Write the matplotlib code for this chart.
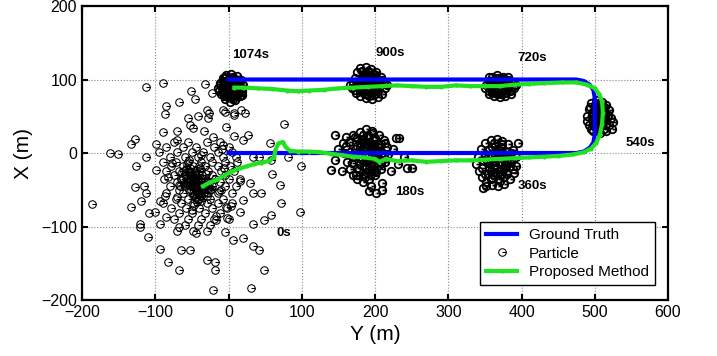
import matplotlib
matplotlib.use("Agg")
import matplotlib.pyplot as plt
from matplotlib.path import Path

plt.rcParams["font.family"] = ["Liberation Sans", "DejaVu Sans"]

# ground truth loop (Y, X) in metres
gt_y = [0, 475, 485, 493, 498, 500, 500, 498, 493, 485, 475, 0]
gt_x = [0, 0, 2, 7, 14, 25, 75, 86, 93, 98, 100, 100]

# proposed method trajectory
pm_y = [-35, -25, -15, -5, 5, 15, 25, 35, 45, 55, 62, 64, 68, 74, 78, 84, 95, 110,
        125, 140, 155, 170, 185, 200, 206, 215, 230, 250, 270, 290, 310, 330, 350,
        370, 390, 410, 430, 450, 470, 485, 495, 502, 507, 510, 511, 510, 506, 500,
        490, 475, 455, 430, 410, 390, 370, 350, 330, 310, 290, 270, 250, 230, 210,
        190, 170, 150, 130, 110, 95, 80, 60, 40, 20, 8]
pm_x = [-45, -40, -36, -30, -25, -21, -18, -15, -13, -11, -6, 4, 13, 15, 8, 3, 2, 2,
        1, -1, -3, -5, -6, -8, -12, -8, -11, -10, -12, -11, -10, -10, -9,
        -8, -7, -6, -5, -4, -2, 1, 6, 14, 25, 40, 55, 70, 80, 88,
        93, 96, 96, 95, 94, 93, 91, 91, 91, 92, 90, 90, 91, 92, 91,
        90, 89, 88, 86, 85, 84, 85, 87, 88, 89, 89]

# particles at each time, (Y, X)
p0_y = [-112, -89, -32, -51, -46, -67, -86, -87, -30, -42, -56, -53, -28, -3, 8, 20, 26,
        17, -8, 7, 76, -128, -133, -99, -90, -71, -71, -49, -33, -21, -8, 56, 33, 42,
        58, 81, 99, -162, -151, -112, -126, -99, -115, -128, -186, -133, -119, -112,
        -121, -110, -94, -83, -67, -65, -53, -30, -19, -19, -21, 31, 49, 33, 42, 6, 20,
        -5, 33, 49, 58, 72, 97, 70, 60, 33, 29, 45, -101, -85, -108, -121, -94, -67,
        -44, -17, -3, 15, 20, -22, -26, -5, 8, 22,
        -75, -55, -30, -12, -85, -62, -45, -20, 0, -95, -70, -50, -35, -15, 5,
        -80, -60, -42, -25, -8, 10, -90, -72, -55, -38, -22, -5, 12,
        -78, -62, -48, -32, -15, 2, -85, -68, -52, -40, -28, -10, 8,
        -75, -58, -46, -36, -22, -5, -88, -65, -52, -42, -32, -18, 0, 15,
        -70, -55, -46, -38, -28, -12, -80, -60, -50, -42, -34, -22, -5, 10,
        -68, -54, -44, -36, -25, -10, -85, -62, -48, -38, -28, -15, 5,
        -72, -55, -40, -25, -8, -90, -65, -48, -30, -15, 5,
        -78, -58, -40, -22, -2, -68, -50, -32, -12, -75, -55, -38, -20, 0,
        -60, -42, -25, -70, -48, -30,
        -44, -48, -40, -42, -50, -38, -46, -52, -36, -43,
        -47, -41, -53, -35, -58, -31, -49, -39, -45, -56, -33, -61, -27, -51, -37,
        -63, -24, -57, -44, -29, -66, -19, -43, -54, -34, -47, -40, -59, -26, -50,
        -38, -64, -13, -71, -6, -82, 3, -77, -17, -67, -9, -58, -2, -87, 16, -93,
        -45, -41, -49, -37, -53, -43, -39, -47, -35, -51, -44, -48, -40, -42, -46,
        -55, -32, -60, -30, -50, -36, -56, -34, -62, -28, -44, -52, -38, -46, -42]
p0_x = [90, 95, 94, 85, 73, 70, 64, 53, 58, 50, 47, 38, 47, 35, 23, 18, 24,
        58, 58, 54, 40, 19, 12, 12, 28, 30, 18, 34, 30, 22, 11, 13, -5, -5,
        -10, -5, -18, 0, -2, -5, -18, -23, -45, -46, -69, -73, -65, -55,
        -96, -114, -130, -148, -159, -132, -132, -146, -148, -159, -186, -183, -159,
        -127, -132, -118, -116, -107, -96, -91, -84, -68, -80, -44, -28, -55, -41, -55,
        -80, -87, -82, -100, -96, -100, -109, -91, -73, -80, -64, 82, 54, 56, 52, 54,
        15, 15, 15, 15, 8, 8, 8, 8, 8, 2, 2, 2, 2, 2, 2,
        -5, -5, -5, -5, -5, -5, -12, -12, -12, -12, -12, -12, -12,
        -18, -18, -18, -18, -18, -18, -24, -24, -24, -24, -24, -24, -24,
        -30, -30, -30, -30, -30, -30, -35, -35, -35, -35, -35, -35, -35, -35,
        -40, -40, -40, -40, -40, -40, -45, -45, -45, -45, -45, -45, -45, -45,
        -50, -50, -50, -50, -50, -50, -55, -55, -55, -55, -55, -55, -55,
        -62, -62, -62, -62, -62, -68, -68, -68, -68, -68, -68,
        -75, -75, -75, -75, -75, -82, -82, -82, -82, -90, -90, -90, -90, -90,
        -98, -98, -98, -106, -106, -106,
        -38, -42, -44, -36, -38, -40, -46, -44, -34, -48,
        -33, -51, -27, -47, -39, -29, -57, -21, -61, -43, -53, -25, -41, -31, -65,
        -37, -49, -15, -23, -59, -45, -35, -67, -9, -55, -71, -17, -30, -47, -77,
        -3, -26, -52, -60, -20, -33, -72, -13, -86, -44, 6, -22, -88, -58, -38, -65,
        -30, -34, -36, -38, -40, -42, -44, -46, -48, -50, -52, -32, -54, -28, -56,
        -36, -44, -42, -38, -30, -50, -26, -48, -34, -46, -60, -20, -58, -24, -62]

p180_y = [160, 158, 162, 166, 170, 176, 184, 192, 200, 208, 214, 218, 216, 212, 205,
          196, 188, 180, 172, 165, 175, 182, 190, 198, 206, 200, 192, 184, 178, 186,
          196, 204, 170, 210, 188, 194, 180, 200, 150, 145, 155, 225, 232, 228, 240,
          250, 195, 202, 210, 192, 170, 160, 222, 145, 140, 156, 197, 209, 243, 233,
          176, 184, 192, 200, 208, 172, 180, 188, 196, 204, 212, 168, 178, 188, 198,
          206, 174, 186, 194, 202, 190, 182, 198, 166, 214,
          180, 186, 192, 198, 204, 178, 184, 190, 196, 202, 182, 188, 194, 200, 186,
          192, 198, 176, 208, 190]
p180_x = [10, 0, -12, -22, -30, -36, -40, -36, -30, -22, -12, -2, 8, 18, 25,
          30, 32, 28, 22, 15, 10, 0, -10, -18, -8, 5, 15, 18, -5, -20,
          -2, 12, -5, 0, 5, -28, -15, 20, 5, -10, -25, 5, -15, 20, -5,
          -20, -45, -55, -50, -52, 25, 22, -25, 24, -23, 13, 27, -41, -20, 20,
          20, 24, 22, 18, 12, 6, 8, 12, 6, 2, -6, -14, -22, -26, -24,
          -16, -30, -32, -12, -26, -4, -8, 10, 2, 14,
          14, 16, 10, 12, 8, 2, 4, -2, 0, -4, -10, -12, -14, -10, -28,
          -22, -24, -20, -14, 24]

p360_y = [340, 338, 342, 346, 352, 360, 368, 376, 384, 390, 393, 392, 388, 382, 374,
          366, 358, 350, 344, 350, 356, 362, 370, 378, 384, 376, 368, 360, 354, 366,
          372, 380, 358, 362, 370, 386, 346, 364, 352, 395, 348,
          356, 364, 372, 380, 352, 360, 368, 376, 384, 356, 364, 372, 380, 360, 368,
          376, 348, 388, 362, 374,
          358, 366, 374, 382, 354, 362, 370, 378, 358, 366, 374, 362, 370, 350, 386]
p360_x = [-5, -15, -25, -33, -40, -44, -45, -42, -36, -27, -17, -6, 4, 12, 17,
          19, 18, 14, 6, -2, -12, -22, -30, -20, -10, -2, 6, 8, -28, -8,
          -14, -28, -35, 0, -38, 0, -20, -16, -45, 14, -48,
          4, 10, 8, 2, -8, -4, -2, -8, -18, -20, -26, -22, -14, -34, -36,
          -32, -10, -22, 14, 12,
          -2, 2, 0, -4, -14, -10, -12, -16, -24, -20, -28, -30, -24, -28, -12]

p540_y = [490, 492, 495, 502, 510, 516, 520, 522, 520, 515, 507, 498, 492, 489, 497,
          503, 510, 514, 508, 500, 506, 513, 496, 504, 500, 512, 518, 494, 505, 509,
          499, 508, 516, 495, 525, 523,
          498, 502, 506, 510, 514, 500, 504, 508, 512, 496, 502, 508, 514, 500, 506,
          511, 503, 497,
          500, 504, 508, 512, 498, 502, 506, 510, 514, 500, 506, 512, 504, 508]
p540_x = [50, 60, 68, 72, 70, 65, 58, 48, 38, 30, 27, 30, 38, 44, 45,
          52, 55, 45, 38, 60, 62, 57, 55, 42, 36, 32, 52, 62, 48, 48,
          48, 66, 40, 32, 42, 32,
          40, 36, 34, 38, 50, 44, 46, 42, 62, 50, 56, 58, 54, 66, 68,
          44, 58, 38,
          40, 40, 44, 46, 52, 50, 52, 50, 56, 58, 56, 62, 64, 60]

p720_y = [352, 355, 356, 360, 367, 375, 382, 388, 390, 386, 378, 370, 362, 356, 362,
          368, 375, 370, 380, 364, 374, 384, 358, 366, 376, 350, 370, 378, 385, 360,
          368, 372, 362, 382, 356, 392,
          360, 366, 372, 378, 384, 358, 364, 370, 376, 382, 362, 368, 374, 380, 366,
          372,
          362, 368, 374, 380, 358, 364, 370, 376, 382, 362, 368, 374, 380, 366, 372]
p720_x = [92, 85, 98, 103, 106, 104, 100, 95, 88, 80, 77, 76, 78, 80, 88,
          94, 90, 84, 86, 98, 98, 92, 94, 82, 82, 88, 100, 95, 86, 86,
          90, 92, 92, 104, 104, 92,
          82, 80, 80, 82, 84, 90, 88, 86, 86, 90, 96, 96, 94, 94, 102,
          102,
          84, 82, 84, 88, 90, 92, 90, 92, 94, 98, 98, 100, 96, 86, 88]

p900_y = [170, 168, 172, 175, 180, 188, 195, 202, 208, 212, 214, 210, 204, 196, 188,
          180, 174, 178, 184, 190, 198, 205, 200, 192, 184, 186, 194, 200, 182, 192,
          206, 176, 196, 188, 210, 173, 182, 200, 216, 166, 192, 198,
          180, 186, 192, 198, 204, 178, 184, 190, 196, 202, 208, 182, 188, 194, 200,
          206, 186, 194, 190,
          182, 188, 194, 200, 206, 180, 186, 192, 198, 204, 184, 190, 196, 202, 188]
p900_x = [95, 88, 102, 110, 115, 117, 114, 110, 104, 96, 88, 80, 76, 74, 75,
          78, 82, 90, 98, 105, 102, 95, 86, 83, 86, 92, 95, 98, 104, 110,
          88, 97, 90, 100, 100, 86, 112, 80, 92, 92, 88, 107,
          84, 80, 78, 80, 84, 92, 90, 88, 86, 90, 94, 100, 96, 100, 106,
          98, 108, 106, 112,
          88, 84, 82, 84, 90, 96, 94, 92, 92, 96, 102, 100, 104, 104, 108]

p1074_y = [-12, -8, -3, 4, 11, 17, 20, -14, -10, -5, 2, 9, 15, 19, -6, 0, 7, 13, -9,
           -2, 5, 12, -7, 0, 8, 14, -3, 4, 10, -11, 2, 16, -4, 6, 1, -1, 9, 3, -8,
           11, -13, 18, 6, -5,
           -6, 0, 6, 12, -8, -2, 4, 10, 16, -4, 2, 8, 14, -2, 4, 10, 3, -7,
           -4, 2, 8, 14, -6, 0, 6, 12, -2, 4, 10, 0, 6]
p1074_x = [95, 102, 106, 108, 105, 100, 93, 88, 80, 74, 70, 72, 77, 84, 96, 100, 99,
           94, 89, 90, 91, 87, 83, 82, 81, 85, 77, 76, 79, 92, 95, 90, 86, 86, 88,
           93, 92, 80, 98, 98, 84, 79, 103, 103,
           78, 76, 74, 80, 84, 84, 82, 84, 88, 92, 90, 90, 94, 98, 96, 96, 102, 90,
           80, 78, 78, 82, 88, 86, 88, 90, 94, 92, 94, 100, 100]

times = ["0s", "180s", "360s", "540s", "720s", "900s", "1074s"]
label_y = [65, 227, 395, 542, 395, 200, 5]
label_x = [-109, -53, -45, 13, 129, 136, 133]

heading = Path.make_compound_path(Path.unit_circle(), Path([(0, 0), (1.2, 0)]))

fig = plt.figure(figsize=(7.17, 3.56), dpi=100)
ax = fig.add_axes([0.1144, 0.1573, 0.8173, 0.8258])

# the 0 s cloud is sparse, later clouds are dense
ax.plot(p0_y, p0_x, linestyle="none", marker=heading, ms=6.5, mfc="none",
        mec="black", mew=0.75, label="Particle", zorder=2)
dense_y = p180_y + p360_y + p540_y + p720_y + p900_y + p1074_y
dense_x = p180_x + p360_x + p540_x + p720_x + p900_x + p1074_x
ax.plot(dense_y, dense_x, linestyle="none", marker=heading, ms=6.5, mfc="none",
        mec="black", mew=1.3, zorder=2)
ax.plot(gt_y, gt_x, color="#0000ff", lw=3, label="Ground Truth", zorder=3)
ax.plot(pm_y, pm_x, color="#22e022", lw=3, marker=".", ms=4,
        label="Proposed Method", zorder=4)

for t, ty, tx in zip(times, label_y, label_x):
    ax.text(ty, tx, t, fontsize=9.5, fontweight="bold", ha="left", va="center")

ax.set_xlim(-200, 600)
ax.set_ylim(-200, 200)
ax.set_xticks(range(-200, 601, 100))
ax.set_yticks(range(-200, 201, 100))
ax.tick_params(direction="in", top=True, right=True, length=4, width=1.5,
               labelsize=11.5)
ax.grid(True, color="#888888", linestyle=":", lw=0.8)
for s in ax.spines.values():
    s.set_linewidth(1.6)
ax.set_xlabel("Y (m)", fontsize=15, labelpad=4)
ax.set_ylabel("X (m)", fontsize=15, labelpad=6)

h, l = ax.get_legend_handles_labels()
order = [1, 0, 2]
leg = ax.legend([h[i] for i in order], [l[i] for i in order], loc="lower right",
                bbox_to_anchor=(0.991, 0.024), fontsize=11, fancybox=False,
                edgecolor="black", framealpha=1, borderpad=0.4, labelspacing=0.3,
                handlelength=2.0)
leg.get_frame().set_linewidth(1.0)

fig.savefig("out.png", dpi=100)
